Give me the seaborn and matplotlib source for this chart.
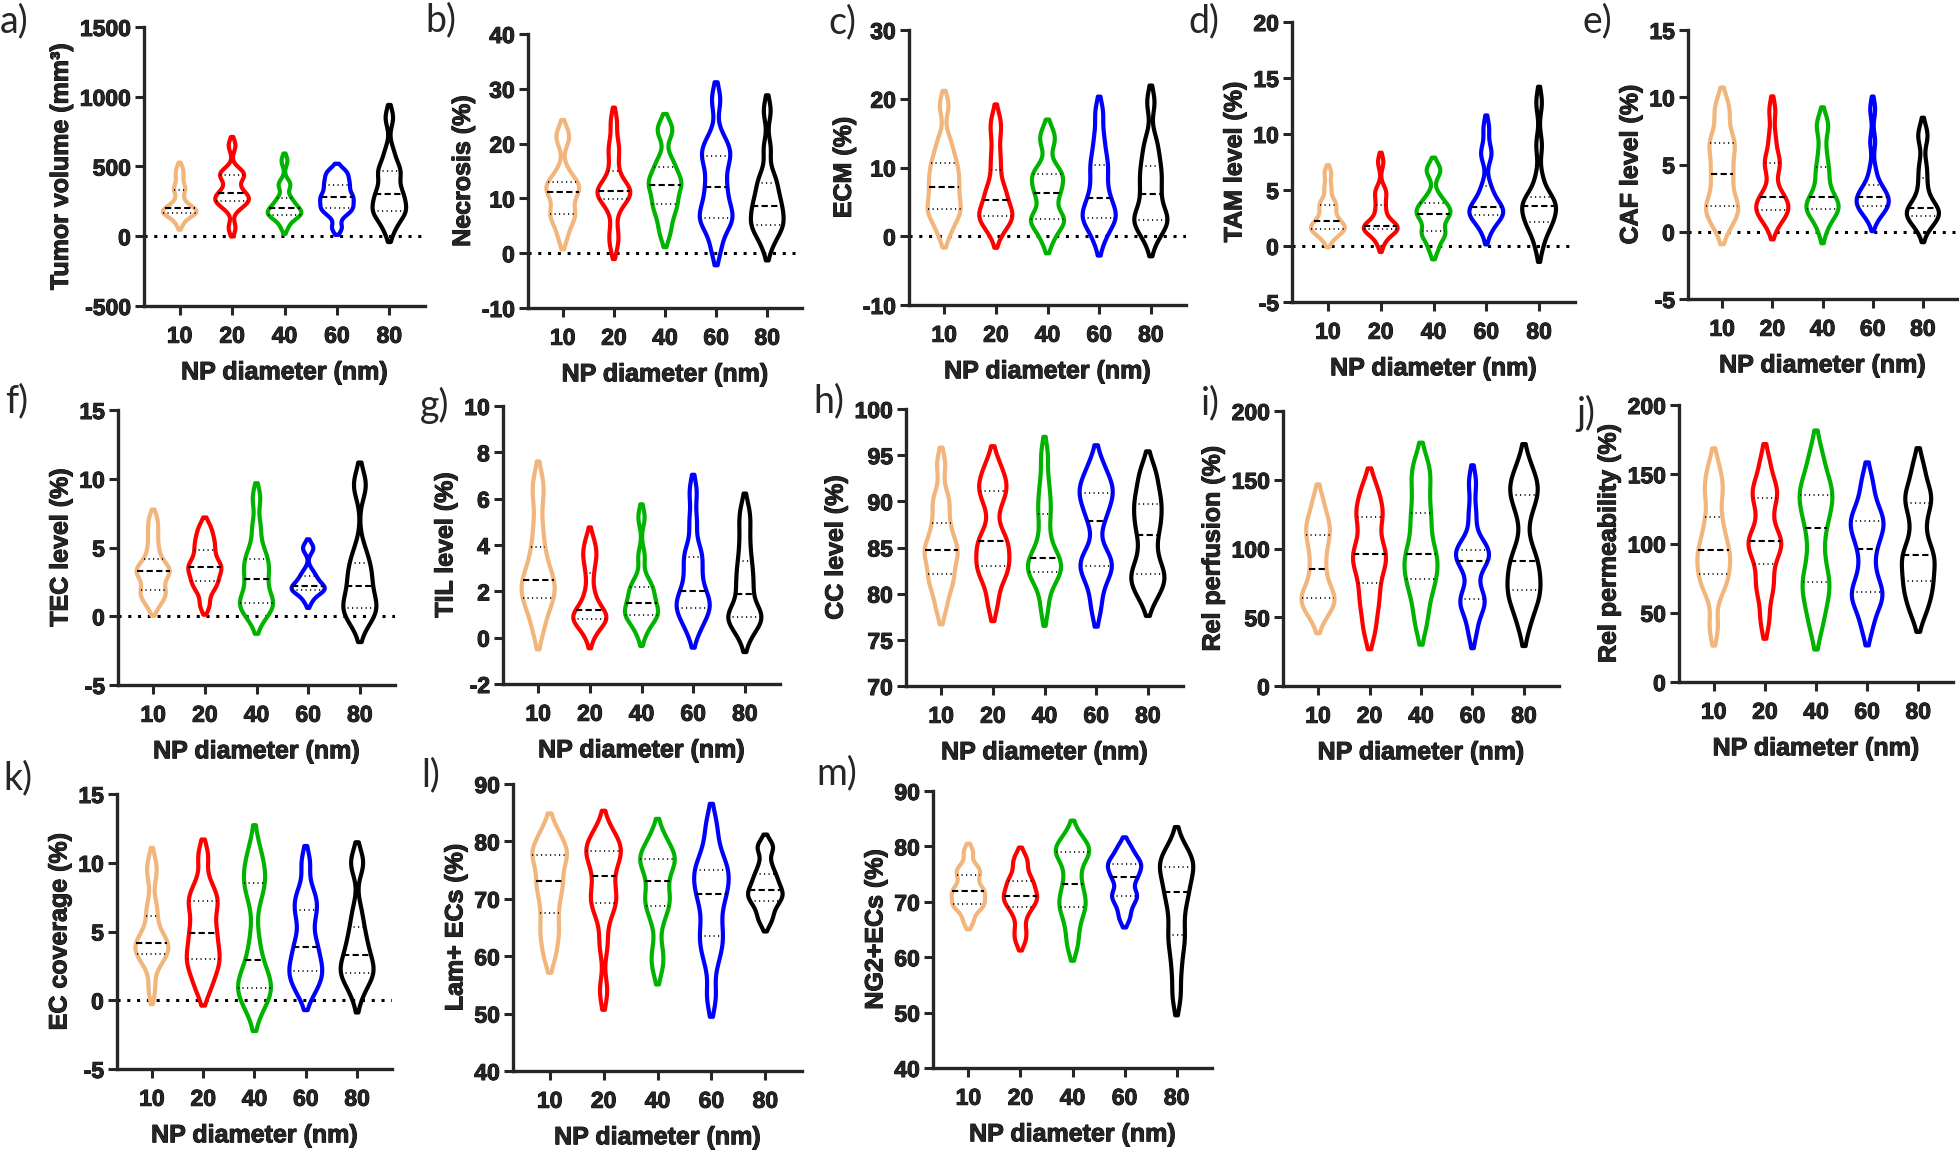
import numpy as np
import pandas as pd
import matplotlib
matplotlib.use("Agg")
import matplotlib.pyplot as plt
import matplotlib.patheffects as pe
import seaborn as sns

sns.set_style("ticks")
plt.rcParams["font.family"] = ["Liberation Sans", "DejaVu Sans"]
plt.rcParams["font.weight"] = "bold"
plt.rcParams["axes.labelweight"] = "bold"

W, H = 1959, 1156

sizes = ["10", "20", "40", "60", "80"]
colors = ["#F2B57C", "#FF0000", "#00B300", "#0000FF", "#000000"]

# values per NP diameter group (10, 20, 40, 60, 80 nm)
tumor_volume = [
    [95, 150, 160, 170, 175, 185, 200, 215, 260, 330, 350, 420, 480],
    [60, 200, 240, 250, 265, 280, 310, 330, 400, 440, 450, 460, 650],
    [70, 130, 150, 155, 165, 180, 200, 215, 250, 275, 360, 380, 540],
    [60, 150, 190, 200, 230, 260, 280, 300, 340, 370, 400, 440, 470],
    [50, 140, 170, 180, 220, 270, 305, 330, 420, 470, 490, 600, 850],
]
necrosis = [
    [3, 5.5, 6.8, 7.1, 8.5, 10.5, 11.2, 12, 12.5, 13, 15, 20.5, 22],
    [1.5, 4, 8, 9.9, 10.5, 11, 11.3, 11.8, 12.5, 15, 18, 20, 24],
    [3.5, 6, 8, 9, 10, 12, 12.5, 13, 14, 15.7, 17, 22, 23],
    [1, 5, 6, 6.5, 8, 10, 12, 14, 17, 17.8, 19, 21, 28],
    [1.5, 4, 4.8, 5.1, 6.5, 7.5, 8.7, 9.5, 11, 12.9, 14, 19, 26],
]
ecm = [
    [0.5, 2.5, 3.5, 4, 5, 6.5, 7.2, 8.5, 9.5, 10.6, 12, 14, 19],
    [0.5, 2, 2.6, 2.9, 3.3, 4, 5.3, 6.5, 7, 9.7, 12, 15, 17],
    [-0.5, 1.5, 2.2, 2.5, 3, 5.5, 6.3, 7.5, 8.5, 9, 10, 13.5, 15],
    [-0.5, 1.5, 2.5, 2.7, 3.3, 4.5, 5.5, 7, 9, 10.3, 12, 14.5, 18],
    [-0.5, 1.5, 2, 2.4, 3, 4.5, 6.2, 7.5, 9, 10.2, 12, 14, 19.5],
]
tam_level = [
    [0.6, 1.2, 1.4, 1.5, 1.7, 1.9, 2.2, 2.6, 3.2, 3.7, 4, 5.2, 6.5],
    [0.3, 1.2, 1.4, 1.5, 1.6, 1.7, 1.8, 2.2, 3, 3.7, 4.6, 5, 7.5],
    [-0.3, 0.8, 1.1, 1.3, 2.2, 2.7, 2.9, 3.1, 3.5, 3.8, 4.5, 6.5, 7],
    [1.3, 2.3, 2.6, 2.8, 3, 3.2, 3.5, 3.8, 4.5, 5.4, 8, 8.5, 10.5],
    [0, 1.5, 1.9, 2.1, 2.8, 3.3, 3.6, 3.8, 4.1, 4.4, 6, 9, 12.8],
]
caf_level = [
    [0.3, 1.2, 1.6, 1.9, 2.5, 3.5, 4.3, 5, 6, 6.6, 7, 8.5, 9.5],
    [0.5, 1.2, 1.5, 1.6, 1.9, 2.2, 2.6, 3, 4.5, 5.1, 5.6, 7, 9],
    [0.2, 1.2, 1.5, 1.7, 1.9, 2.2, 2.6, 3.2, 4.2, 4.8, 6, 7.6, 8.2],
    [1, 1.6, 1.8, 1.9, 2.2, 2.4, 2.6, 2.8, 3.2, 3.5, 4.6, 6.7, 9.1],
    [0.2, 0.8, 1.1, 1.2, 1.4, 1.6, 1.8, 2.2, 3, 4, 5, 6.8, 7.5],
]
tec_level = [
    [0.8, 1.4, 1.7, 1.9, 2.6, 3, 3.3, 3.4, 3.6, 4.2, 5, 6, 7],
    [0.8, 1.8, 2.3, 2.6, 3, 3.4, 3.6, 3.8, 4.3, 4.8, 5.3, 5.8, 6.5],
    [-0.2, 0.5, 0.8, 1, 1.3, 2, 2.7, 3.2, 3.8, 4.2, 5, 6.5, 8.6],
    [1.1, 1.6, 1.8, 1.9, 2, 2.1, 2.2, 2.4, 2.7, 2.9, 3.3, 4.8, 5.1],
    [-0.5, 0.2, 0.4, 0.6, 0.9, 1.5, 2.2, 2.8, 3.3, 3.9, 4.8, 9.3, 9.8],
]
til_level = [
    [0.3, 1, 1.5, 1.7, 2, 2.3, 2.5, 2.8, 3.3, 3.9, 4.8, 6, 6.8],
    [0.1, 0.6, 0.7, 0.8, 0.9, 1, 1.2, 1.5, 2, 2.8, 3.4, 3.7, 4.2],
    [0.2, 0.7, 0.9, 1, 1.1, 1.3, 1.5, 1.8, 2, 2.2, 2.5, 3.5, 5.2],
    [0.3, 0.8, 1.1, 1.3, 1.5, 1.7, 2, 2.5, 3, 3.5, 3.8, 5, 6.3],
    [0.1, 0.6, 0.8, 0.9, 1, 1.2, 1.9, 2.3, 2.8, 3.3, 4, 4.8, 5.5],
]
cc_level = [
    [78.5, 80.5, 81.5, 82.1, 83.5, 84.3, 84.7, 85.2, 86.5, 87.6, 89.5, 90.5, 94],
    [79, 81.5, 82.5, 83, 84, 85, 85.7, 86.5, 89.5, 91.1, 91.5, 92.5, 94],
    [78.5, 81, 82, 82.4, 82.8, 83.4, 83.9, 84.5, 86.5, 88.6, 90, 92, 95],
    [78.5, 81, 82.5, 83, 83.5, 84.5, 87.9, 89, 90.5, 90.9, 91.5, 92.5, 94],
    [79.5, 80.8, 81.5, 82.1, 83, 84.5, 86.3, 87.5, 88.5, 89.7, 90.5, 92, 93.5],
]
rel_perfusion = [
    [50, 58, 61, 64, 68, 75, 85, 95, 105, 110, 118, 122, 135],
    [40, 55, 65, 75, 85, 90, 96, 100, 110, 123, 125, 135, 145],
    [45, 60, 72, 78, 85, 92, 96, 105, 118, 126, 140, 152, 162],
    [40, 55, 60, 63, 68, 85, 91, 95, 97, 99, 105, 125, 148],
    [45, 60, 65, 70, 78, 85, 91, 100, 125, 139, 142, 148, 160],
]
rel_permeability = [
    [40, 65, 72, 78, 84, 90, 95, 100, 110, 119, 135, 142, 155],
    [45, 65, 72, 85, 95, 100, 102, 105, 120, 133, 137, 142, 158],
    [40, 55, 65, 72, 80, 95, 111, 120, 130, 135, 140, 150, 165],
    [40, 55, 60, 65, 70, 82, 96, 105, 112, 116, 120, 130, 145],
    [50, 60, 68, 73, 82, 88, 92, 100, 115, 129, 132, 140, 155],
]
ec_coverage = [
    [0.8, 2.5, 3.1, 3.4, 3.7, 3.9, 4.2, 4.5, 5, 6.1, 7, 9, 10],
    [0.8, 1.8, 2.5, 3, 3.5, 4.2, 4.9, 5.5, 6.5, 7.2, 7.5, 8.5, 10.5],
    [-0.5, 0.3, 0.7, 0.9, 1.3, 1.8, 2.9, 4.5, 7.5, 8.5, 9, 9.8, 11],
    [0.5, 1.2, 1.8, 2.1, 2.6, 3.2, 3.9, 4.5, 5.8, 6.6, 7.2, 8, 10],
    [0.4, 1.4, 1.8, 2, 2.3, 2.7, 3.3, 3.8, 4.5, 5.3, 6.5, 9.8, 10.2],
]
lam_ecs = [
    [60, 63, 65, 67.6, 70, 72, 73.1, 75, 77, 77.7, 78.5, 80, 82],
    [54, 62, 67, 69.3, 70, 71.5, 74, 76, 77.5, 78.4, 79, 80, 82],
    [58, 61, 66, 68.7, 69.5, 71, 73.1, 75, 76.5, 76.9, 77.5, 79, 81],
    [53, 59, 62, 63.5, 66, 69, 70.9, 72, 74, 75.1, 76, 79, 83],
    [66, 67.5, 69, 69.7, 70.5, 71, 71.6, 72.5, 73.5, 74.4, 76, 78.5, 79.5],
]
ng2_ecs = [
    [66.5, 68.5, 69.3, 69.6, 70.5, 71.3, 71.9, 72.3, 73.5, 74.9, 75.5, 76.5, 79],
    [63, 65, 67.5, 69, 69.8, 70.5, 71.1, 71.8, 72.8, 73.7, 74.5, 76.5, 78],
    [62, 65, 67.5, 69, 70, 71.5, 73.2, 75.5, 78, 78.9, 79.5, 80, 82],
    [67, 69, 70.5, 71.1, 72, 73.8, 74.5, 75.5, 76.3, 76.8, 77.5, 78.5, 80],
    [53, 58, 62, 64, 67, 70, 71.7, 73, 75.5, 76.2, 77, 78, 80],
]

y_labels = ["Tumor volume (mm³)", "Necrosis (%)", "ECM (%)", "TAM level (%)",
            "CAF level (%)", "TEC level (%)", "TIL level (%)", "CC level (%)",
            "Rel perfusion (%)", "Rel permeability (%)", "EC coverage (%)",
            "Lam+ ECs (%)", "NG2+ECs (%)"]
letters = ["a)", "b)", "c)", "d)", "e)", "f)", "g)", "h)", "i)", "j)", "k)", "l)", "m)"]
datasets = [tumor_volume, necrosis, ecm, tam_level, caf_level, tec_level, til_level,
            cc_level, rel_perfusion, rel_permeability, ec_coverage, lam_ecs, ng2_ecs]
y_ticks = [np.arange(-500, 1501, 500), np.arange(-10, 41, 10), np.arange(-10, 31, 10),
           np.arange(-5, 21, 5), np.arange(-5, 16, 5), np.arange(-5, 16, 5),
           np.arange(-2, 11, 2), np.arange(70, 101, 5), np.arange(0, 201, 50),
           np.arange(0, 201, 50), np.arange(-5, 16, 5), np.arange(40, 91, 10),
           np.arange(40, 91, 10)]
zero_line = [True, True, True, True, True, True, False, False, False, False, True, False, False]

# layout in pixels: (left, top, right, bottom) of axes, and letter (x, y)
rects = [(144, 27, 425, 306), (528, 34, 802, 308), (909, 30, 1186, 305),
         (1292, 22, 1575, 302), (1688, 30, 1957, 299),
         (118, 410, 395, 685), (503, 406, 780, 684), (906, 409, 1183, 686),
         (1283, 411, 1559, 686), (1679, 405, 1953, 682),
         (117, 794, 392, 1069), (513, 784, 802, 1071), (933, 791, 1212, 1068)]
letter_pos = [(0, 21), (425, 20), (828, 22), (1188, 21), (1582, 21),
              (5, 401), (420, 405), (813, 401), (1201, 403), (1576, 413),
              (3, 778), (421, 775), (816, 773)]

thick = [pe.withStroke(linewidth=0.7, foreground="k")]

fig = plt.figure(figsize=(W / 100, H / 100), dpi=100)

for k in range(13):
    l, t, r, b = rects[k]
    ax = fig.add_axes([l / W, 1 - b / H, (r - l) / W, (b - t) / H])
    data = datasets[k]
    df = pd.DataFrame({
        "NP": np.repeat(sizes, [len(v) for v in data]),
        "val": np.concatenate([np.asarray(v, float) for v in data]),
    })
    n0 = len(ax.lines)
    sns.violinplot(data=df, x="NP", y="val", hue="NP", order=sizes, hue_order=sizes,
                   palette=colors, fill=False, inner="quart", linewidth=3.0,
                   density_norm="width", width=0.64, bw_adjust=0.5, cut=1.4,
                   legend=False, inner_kws=dict(color="k", linewidth=1.3), ax=ax)
    inner = ax.lines[n0:]
    for i, ln in enumerate(inner):
        ln.set_color("k")
        if i % 3 == 1:
            ln.set_linewidth(1.5)
            ln.set_dashes([3.0, 1.6])
        else:
            ln.set_linewidth(1.2)
            ln.set_dashes([0.7, 2.0])
    if zero_line[k]:
        ax.axhline(0, color="k", lw=2.2, ls=(0, (1, 2.2)), zorder=0.5)
    ax.set_xlim(-0.68, 4.68)
    yt = y_ticks[k]
    ax.set_ylim(yt[0], yt[-1])
    ax.set_yticks(yt)
    ax.set_xticks(range(5))
    ax.set_xticklabels(sizes, fontweight="bold")
    ax.set_yticklabels([str(v) for v in yt], fontweight="bold")
    for s in ["top", "right"]:
        ax.spines[s].set_visible(False)
    for s in ["left", "bottom"]:
        ax.spines[s].set_linewidth(2.4)
    ax.tick_params(axis="both", direction="out", length=6.5, width=2.2, labelsize=16.5)
    ax.tick_params(axis="x", pad=7)
    ax.tick_params(axis="y", pad=3)
    for lab in ax.get_xticklabels() + ax.get_yticklabels():
        lab.set_path_effects(thick)
    ax.set_xlabel("NP diameter (nm)", fontsize=18, fontweight="bold", labelpad=9,
                  path_effects=thick)
    ax.set_ylabel(y_labels[k], fontsize=18, fontweight="bold", labelpad=5,
                  path_effects=thick)
    ax.set_facecolor("none")
    lx, ly = letter_pos[k]
    fig.text(lx / W, 1 - ly / H, letters[k], fontsize=27, fontweight="normal",
             family=["Lato", "DejaVu Sans"], ha="left", va="center")

fig.savefig("out.png", dpi=100)
